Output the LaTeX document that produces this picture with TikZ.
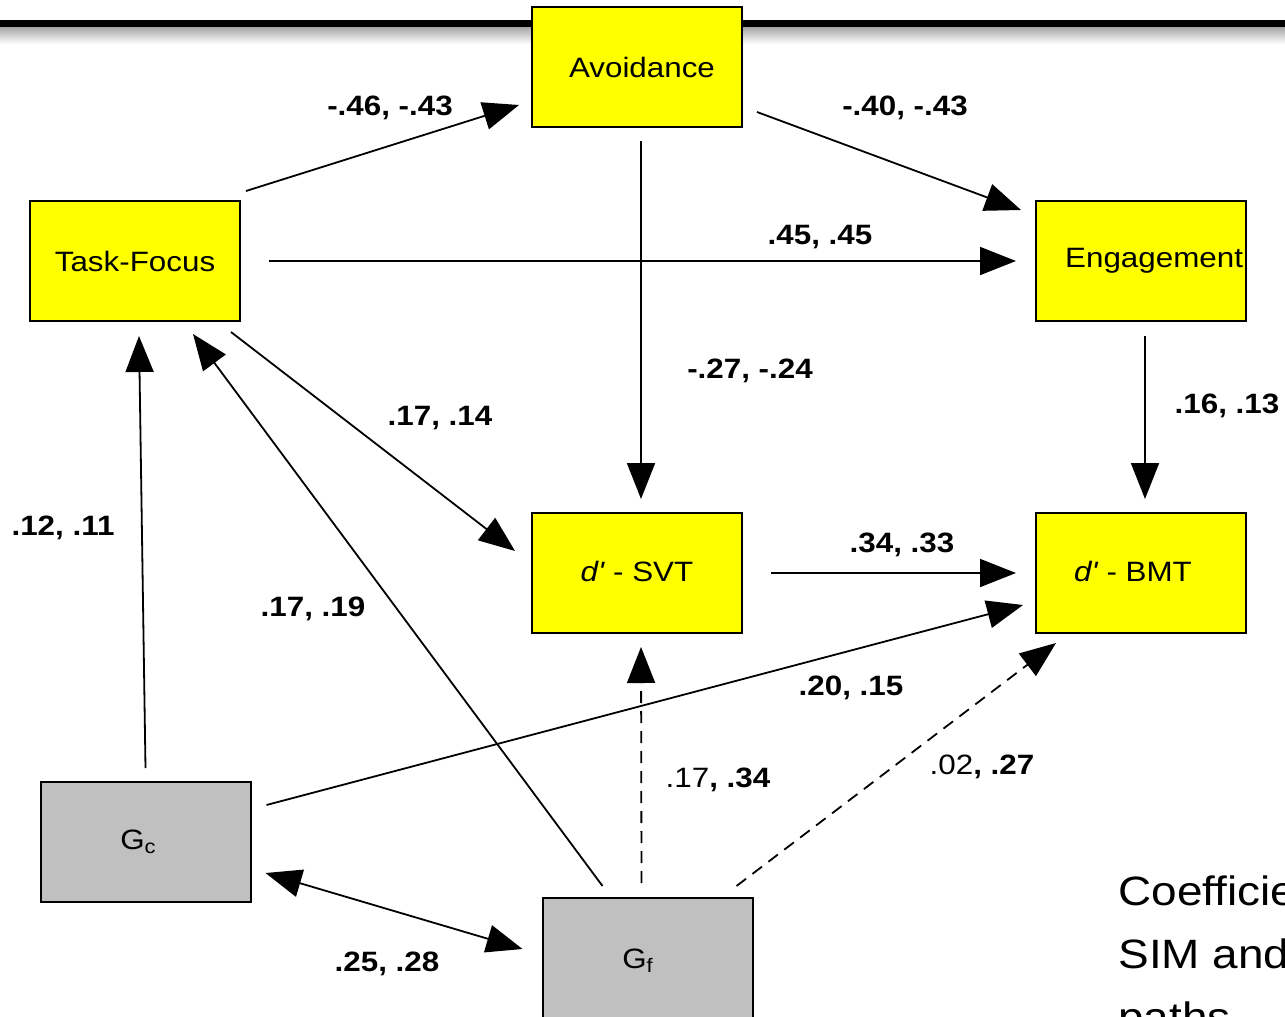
\documentclass[tikz,border=0pt]{standalone}
\usepackage{fontspec}
\setmainfont{Liberation Sans}[FakeStretch=1.12]
\usetikzlibrary{positioning, arrows.meta}
\definecolor{boxyellow}{HTML}{FFFF00}
\definecolor{boxgray}{HTML}{C0C0C0}

\begin{document}
\begin{tikzpicture}[
    x=0.5pt, y=-0.5pt,
    >={Triangle[length=18pt,width=14pt]},
    every node/.style={font=\fontsize{14}{16.8}\selectfont},
    ybox/.style={draw, line width=1pt, fill=boxyellow, minimum width=105pt, minimum height=60pt, inner sep=1pt},
    gbox/.style={ybox, fill=boxgray},
    coef/.style={font=\fontsize{14}{16.8}\selectfont\bfseries},
    link/.style={line width=0.9pt, ->},
    dlink/.style={link, dash pattern=on 6pt off 4pt}
]
    \useasboundingbox (0,0) rectangle (1285,1017);

    % Title rule
    \shade[top color=gray!70, bottom color=white] (0,27) rectangle (1285,44);
    \fill[black] (0,20) rectangle (1285,27);

    % Define nodes
    \node[ybox] (tf) at (135,261) {Task-Focus};
    \node[ybox] (av) at (637,67) {\hspace{5pt}Avoidance};
    \node[ybox, text width=102pt, align=right, right=397pt of tf] (eng) {Engagement};
    \node[ybox, below=192pt of av] (svt) {\raisebox{2pt}{\textit{d\textquotesingle} - SVT}};
    \node[ybox, right=146pt of svt] (bmt) {\raisebox{2pt}{\textit{d\textquotesingle} - BMT}\hspace{8pt}\mbox{}};
    \node[gbox] (gc) at (145.5,842) {G\textsubscript{c}\hspace{7pt}\mbox{}};
    \node[gbox, minimum height=63pt] (gf) at (647.5,961) {\raisebox{2pt}{G\textsubscript{f}}\hspace{9.5pt}\mbox{}};

    % Draw arrows
    \draw[link] ([shift={(5,-9)}]tf.north east) -- ([shift={(-12,-23)}]av.south west);
    \draw[link] ([shift={(14,-16)}]av.south east) -- ([shift={(-14,10)}]eng.north west);
    \draw[link] ([xshift=14pt]tf.east) -- ([xshift=-9.5pt]eng.west);
    \draw[link] ([shift={(4,13)}]av.south) -- ([shift={(4,-13)}]svt.north);
    \draw[link] ([shift={(4,14)}]eng.south) -- ([shift={(4,-13)}]bmt.north);
    \draw[link] ([shift={(-10,10)}]tf.south east) -- ([shift={(-16,-22)}]svt.west);
    \draw[link] ([xshift=14pt]svt.east) -- ([xshift=-9.5pt]bmt.west);
    \draw[link] ([shift={(0,-13)}]gc.north) -- ([shift={(4,14)}]tf.south);
    \draw[link] ([shift={(-45,-11)}]gf.north) -- ([shift={(58,12)}]tf.south);
    \draw[link] ([shift={(15,24)}]gc.north east) -- ([shift={(-12,32)}]bmt.west);
    \draw[dlink] ([shift={(-6,-14)}]gf.north) -- ([shift={(4,13)}]svt.south);
    \draw[dlink] ([shift={(-17,-11)}]gf.north east) -- ([shift={(21,9)}]bmt.south west);
    \draw[link, <->] ([shift={(14,31)}]gc.east) -- ([shift={(-19,-12)}]gf.west);

    % Path coefficients
    \node[coef] (c-tf-av) at (390,108) {-.46, -.43};
    \node[coef] (c-av-eng) at (905,108) {-.40, -.43};
    \node[coef] (c-tf-eng) at (820,237) {.45, .45};
    \node[coef] (c-av-svt) at (750,371) {-.27, -.24};
    \node[coef] (c-eng-bmt) at (1227,406) {.16, .13};
    \node[coef] (c-tf-svt) at (440,418) {.17, .14};
    \node[coef] (c-svt-bmt) at (902,545) {.34, .33};
    \node[coef] (c-gc-tf) at (63,528) {.12, .11};
    \node[coef] (c-gf-tf) at (313,609) {.17, .19};
    \node[coef] (c-gc-bmt) at (851,688) {.20, .15};
    \node (c-gf-svt) at (718,780) {.17\textbf{, .34}};
    \node (c-gf-bmt) at (982,767) {.02\textbf{, .27}};
    \node[coef] (c-gc-gf) at (387,964) {.25, .28};

    % Caption text
    \node[anchor=base west, align=left, inner sep=0pt,
          font=\fontsize{20.5}{31.5}\selectfont] (note) at (1118,1031)
          {Coefficie\\SIM and\\paths};
\end{tikzpicture}
\end{document}
